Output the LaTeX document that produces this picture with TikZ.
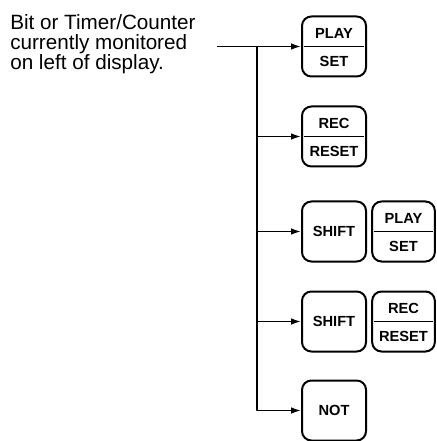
\documentclass[tikz,border=0pt]{standalone}
\usepackage{fontspec}
\setmainfont{Liberation Sans}
\usetikzlibrary{calc,arrows.meta}
\tikzset{
    keybox/.style={
        draw, line width=1.5pt, rounded corners=7pt,
        minimum width=48pt, minimum height=45pt, inner sep=0pt,
        font=\fontsize{11}{13}\selectfont\bfseries
    },
    keylab/.style={
        font=\fontsize{11}{13}\selectfont\bfseries, inner sep=0pt
    },
    wire/.style={line width=1.2pt},
    feed/.style={wire, -{Latex[length=7.5pt,width=5pt]}}
}

\begin{document}
\begin{tikzpicture}[x=0.75pt,y=-0.75pt, line join=round]
\useasboundingbox (0,0) rectangle (436,441);

% note on the left
\node[anchor=north west, align=left, inner sep=0pt,
      font=\fontsize{15.5}{15}\selectfont] (note) at (10,14.5)
      {Bit or Timer/Counter\\currently monitored\\on left of display.};

% keys in the main column
\node[keybox] (pa) at (334,46.5) {};
\node[keybox] (rr) at (334,136.5) {};
\node[keybox] (sa) at (334,231.5) {SHIFT};
\node[keybox] (sb) at (334,321.5) {SHIFT};
\node[keybox] (nt) at (334,410.5) {NOT};

% keys pressed after SHIFT
\node[keybox, minimum width=47pt] (pb) at (403.5,231.5) {};
\node[keybox, minimum width=47pt] (rb) at (403.5,321.5) {};

% two-part key labels
\foreach \k/\up/\dn in {pa/PLAY/SET, rr/REC/RESET, pb/PLAY/SET, rb/REC/RESET} {
  \node[keylab] (\k-up) at ($(\k.center)+(0,-13.5)$) {\up};
  \node[keylab] (\k-dn) at ($(\k.center)+(0,14.5)$) {\dn};
  \draw[line width=1.1pt] ([xshift=2pt]\k.west) -- ([xshift=-2pt]\k.east);
}

% connectors
\coordinate (src) at (217,46.5);
\coordinate (trunk) at (257,46.5);
\draw[feed] (src) -- (pa.west);
\draw[feed] (trunk) -- (trunk |- nt.west) -- (nt.west);
\foreach \k in {rr,sa,sb}
  \draw[feed] (trunk |- \k.west) -- (\k.west);

\end{tikzpicture}
\end{document}
